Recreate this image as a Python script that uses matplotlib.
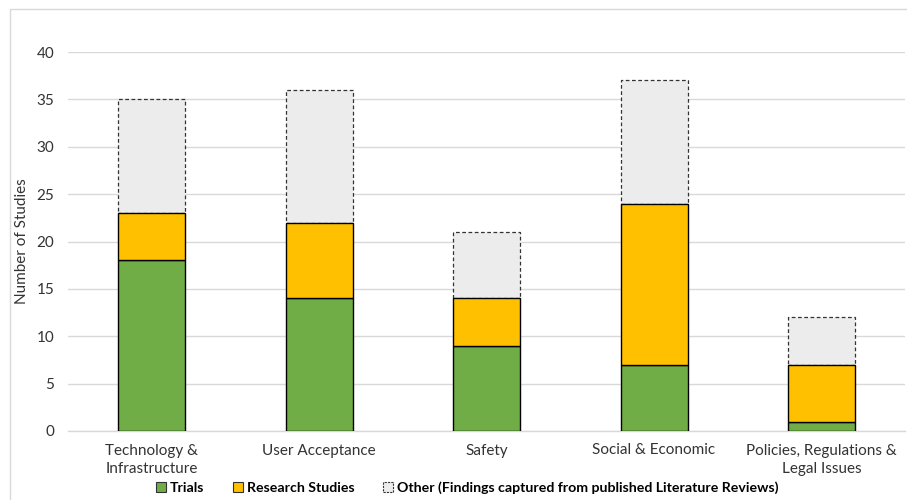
import matplotlib
matplotlib.use('Agg')
import matplotlib.pyplot as plt
import numpy as np
from matplotlib.patches import Patch, Rectangle

plt.rcParams['font.family'] = ['Lato', 'DejaVu Sans']

categories = ['Technology &\nInfrastructure', 'User Acceptance', 'Safety',
              'Social & Economic', 'Policies, Regulations &\nLegal Issues']
trials = [18, 14, 9, 7, 1]
research = [5, 8, 5, 17, 6]
other = [12, 14, 7, 13, 5]

green = '#70ad47'
yellow = '#ffc000'
grey = '#ececec'

fig = plt.figure(figsize=(9.07, 5.0), dpi=100)
ax = fig.add_axes([0.075, 0.138, 0.923, 0.758])

x = np.arange(len(categories))
w = 0.4
trials = np.array(trials)
research = np.array(research)
other = np.array(other)

ax.bar(x, trials, w, color=green, edgecolor='black', linewidth=1.0, zorder=3)
ax.bar(x, research, w, bottom=trials, color=yellow, edgecolor='black', linewidth=1.0, zorder=3)
ax.bar(x, other, w, bottom=trials + research, color=grey, edgecolor='#333333',
       linewidth=0.9, linestyle=(0, (3, 2)), zorder=2)

ax.set_xlim(-0.5, len(categories) - 0.5)
ax.set_ylim(0, 40)
ax.set_yticks(range(0, 41, 5))
ax.set_xticks(x)
ax.set_xticklabels(categories, fontsize=11, color='#333333', linespacing=1.45)
ax.tick_params(axis='y', labelsize=11, colors='#333333', length=0, pad=10)
ax.tick_params(axis='x', length=0, pad=9)
ax.yaxis.grid(True, color='#d9d9d9', linewidth=1.0, zorder=0)
ax.set_axisbelow(True)
for s in ['top', 'right', 'left']:
    ax.spines[s].set_visible(False)
ax.spines['bottom'].set_color('#d9d9d9')
ax.spines['bottom'].set_linewidth(1.0)
ax.set_ylabel('Number of Studies', fontsize=11, color='#333333', labelpad=5)

handles = [
    Patch(facecolor=green, edgecolor='#333333', linewidth=0.8),
    Patch(facecolor=yellow, edgecolor='#333333', linewidth=0.8),
    Patch(facecolor=grey, edgecolor='#333333', linewidth=0.8, linestyle=(0, (2, 1))),
]
labels = ['Trials', 'Research Studies', 'Other (Findings captured from published Literature Reviews)']
leg = fig.legend(handles, labels, loc='center', bbox_to_anchor=(0.515, 0.024), ncol=3,
                 frameon=False, handlelength=0.7, handleheight=0.7, handletextpad=0.3,
                 columnspacing=2.0, prop={'weight': 'bold', 'size': 10.2})

# chart area border
fig.patches.append(Rectangle((10 / 907, -0.1), 1.2, 1 - 9 / 500 + 0.1, transform=fig.transFigure,
                             fill=False, edgecolor='#d9d9d9', linewidth=1.0))

fig.savefig('out.png', dpi=100)
